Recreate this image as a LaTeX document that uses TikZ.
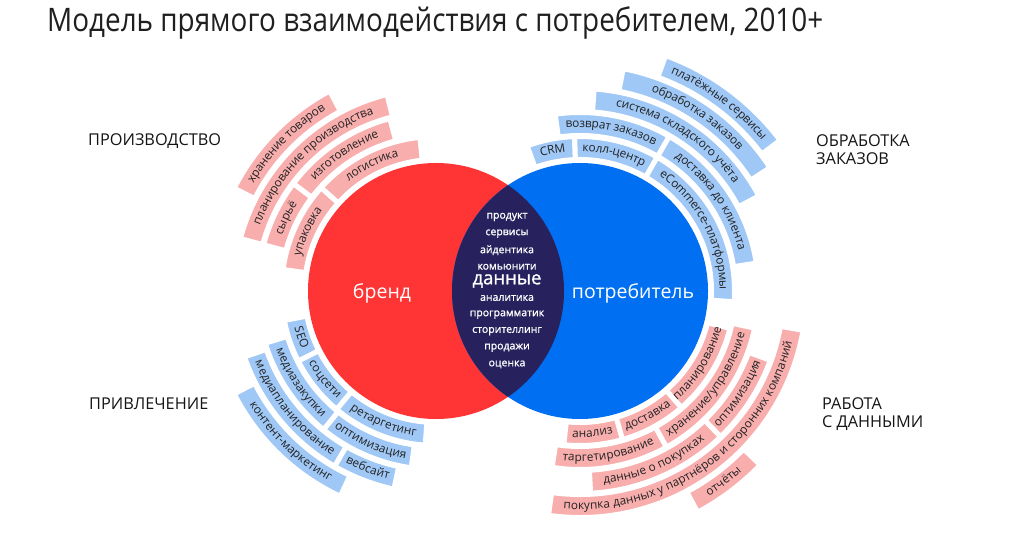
\documentclass[tikz,border=0pt]{standalone}
\usepackage{fontspec}
\setmainfont{Open Sans}
\newfontfamily\titlefont[FakeStretch=0.86]{Open Sans}
\newfontfamily\corefont[FakeBold=1]{Open Sans}
\usetikzlibrary{decorations.text}

\definecolor{brandred}{HTML}{FF3434}
\definecolor{consblue}{HTML}{006FF2}
\definecolor{lensnavy}{HTML}{27215E}
\definecolor{pinkband}{HTML}{F9AEAE}
\definecolor{blueband}{HTML}{9FC8F6}
\definecolor{bandtext}{HTML}{222222}

\begin{document}
\begin{tikzpicture}[x=1pt,y=1pt,
	grouplabel/.style={font=\fontsize{16.3}{18}\selectfont, text=black!92, inner sep=0pt, align=left},
	corelabel/.style={font=\corefont\fontsize{10.5}{12}\selectfont, text=white, inner sep=0pt},
	circlelabel/.style={font=\fontsize{19.5}{22}\selectfont, text=white, inner sep=0pt}]

\useasboundingbox (0,0) rectangle (1024,538);

\def\circleR{128pt}
\def\ringIn{131.5}
\def\ringW{23}
\def\ringStep{24}
\def\gapW{5pt}
\def\textRaise{-3.3pt}
\def\bandfont{\color{bandtext}\fontsize{11.8}{12}\selectfont}

\coordinate (cbrand) at (436,247);
\coordinate (ccons) at (580,247);

\newcommand{\band}[6]{%
	% sector
	\pgfmathsetmacro{\rin}{\ringIn+\ringStep*(#2-1)}
	\pgfmathsetmacro{\rout}{\rin+\ringW}
	\pgfmathsetmacro{\rmid}{\rin+0.5*\ringW}
	\filldraw [fill=#5, draw=white, line width=\gapW] ([shift={(#3:\rin pt)}]#1)
		arc [start angle=#3, end angle=#4, radius=\rin pt]
		-- ([shift={(#4:\rout pt)}]#1)
		arc [start angle=#4, end angle=#3, radius=\rout pt] -- cycle;
	% label
	\path [decorate, decoration={text along path, text align=center, raise=\textRaise,
		text={|\bandfont|#6}}] ([shift={(#3:\rmid pt)}]#1)
		arc [start angle=#3, end angle=#4, radius=\rmid pt];
}

% title
\node [anchor=west, inner sep=0pt, font=\titlefont\fontsize{32.4}{36}\selectfont, text=black!88] (title) at (47,515)
	{Модель прямого взаимодействия с потребителем, 2010+};

% circles
\fill [brandred] (cbrand) circle [radius=\circleR];
\fill [consblue] (ccons) circle [radius=\circleR];
\begin{scope}
	\clip (cbrand) circle [radius=\circleR];
	\fill [lensnavy] (ccons) circle [radius=\circleR];
\end{scope}

\node [circlelabel] (brand) at (382,245) {бренд};
\node [circlelabel] (consumer) at (633,245) {потребитель};

% core
\foreach \w [count=\i] in {продукт, сервисы, айдентика, комьюнити}
	\node [corelabel] (core-a\i) at (507,538-217-16.6*\i+16.6) {\w};
\node [corelabel, font=\corefont\fontsize{18.5}{20}\selectfont] (data) at (507,538-281) {данные};
\foreach \w [count=\i] in {аналитика, программатик, сторителлинг, продажи, оценка}
	\node [corelabel] (core-b\i) at (507,538-298-16.6*\i+16.6) {\w};

% production
\band{cbrand}{1}{172}{138}{pinkband}{упаковка}
\band{cbrand}{1}{138}{96}{pinkband}{логистика}
\band{cbrand}{2}{165}{143}{pinkband}{сырьё}
\band{cbrand}{2}{143}{105}{pinkband}{изготовление}
\band{cbrand}{3}{165}{104}{pinkband}{планирование производства}
\band{cbrand}{4}{153}{118}{pinkband}{хранение товаров}

% attraction
\band{cbrand}{1}{191}{207}{blueband}{SEO}
\band{cbrand}{1}{207}{230}{blueband}{соцсети}
\band{cbrand}{1}{230}{266}{blueband}{ретаргетинг}
\band{cbrand}{2}{197}{231}{blueband}{медиазакупки}
\band{cbrand}{2}{231}{262}{blueband}{оптимизация}
\band{cbrand}{3}{199}{240}{blueband}{медиапланирование}
\band{cbrand}{3}{240}{258}{blueband}{вебсайт}
\band{cbrand}{4}{207}{245}{blueband}{контент-маркетинг}

% order processing
\band{ccons}{1}{110}{92}{blueband}{CRM}
\band{ccons}{1}{92}{60}{blueband}{колл-центр}
\band{ccons}{1}{60}{-4}{blueband}{eCommerce-платформы}
\band{ccons}{2}{98}{60}{blueband}{возврат заказов}
\band{ccons}{2}{60}{9}{blueband}{доставка до клиента}
\band{ccons}{3}{86}{28}{blueband}{система складского учёта}
\band{ccons}{4}{79}{33}{blueband}{обработка заказов}
\band{ccons}{5}{70}{37}{blueband}{платёжные сервисы}

% data
\band{ccons}{1}{264}{286}{pinkband}{анализ}
\band{ccons}{1}{286}{311}{pinkband}{доставка}
\band{ccons}{1}{311}{346}{pinkband}{планирование}
\band{ccons}{2}{261}{299}{pinkband}{таргетирование}
\band{ccons}{2}{299}{348}{pinkband}{хранение/управление}
\band{ccons}{3}{273}{314}{pinkband}{данные о покупках}
\band{ccons}{3}{314}{340}{pinkband}{оптимизация}
\band{ccons}{4}{262}{350}{pinkband}{покупка данных у партнёров и сторонних компаний}
\band{ccons}{5}{298}{316}{pinkband}{отчёты}

% group labels
\node [grouplabel, anchor=west] (production) at (88,397) {ПРОИЗВОДСТВО};
\node [grouplabel, anchor=west] (attraction) at (89,134) {ПРИВЛЕЧЕНИЕ};
\node [grouplabel, anchor=west] (orders) at (816,388) {ОБРАБОТКА\\ЗАКАЗОВ};
\node [grouplabel, anchor=west] (datawork) at (822,124) {РАБОТА\\С ДАННЫМИ};

\end{tikzpicture}
\end{document}
